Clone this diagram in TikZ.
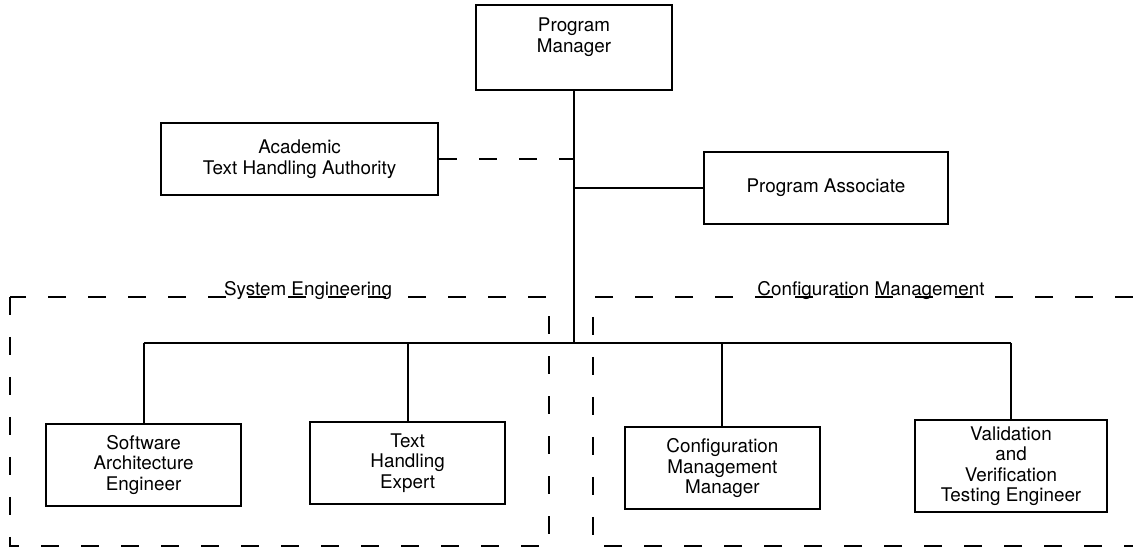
\documentclass[tikz,border=0pt]{standalone}
\usepackage{fontspec}
\setmainfont{TeX Gyre Heros}
\usepackage{tikz}
\usetikzlibrary{positioning}
\tikzset{
  role/.style={
    rectangle, draw, line width=1.5pt,
    align=center, inner sep=2pt,
    font=\fontsize{13.4}{14.6}\selectfont
  },
  topbox/.style ={role, minimum width=4.9cm,   minimum height=2.125cm},
  sidebox/.style={role, minimum width=6.5cm,   minimum height=1.8cm},
  staffbox/.style={role, minimum width=4.875cm, minimum height=2.05cm},
  link/.style={line width=1.5pt},
  dottedlink/.style={line width=1.5pt, dash pattern=on 0.45cm off 0.55cm},
  group/.style={line width=1.4pt, dash pattern=on 0.45cm off 0.55cm},
  grouptitle/.style={anchor=base, font=\fontsize{13.4}{14.6}\selectfont},
}

\begin{document}
\begin{tikzpicture}

  \useasboundingbox (0,0) rectangle (28.325,13.75);

  % Groups
  \draw[group] (0.25,6.325) rectangle (13.725,0.1);
  \draw[group] (28.325,6.325) -- (14.825,6.325) -- (14.825,0.1) -- (28.325,0.1);
  \node[grouptitle] (segroup) at (7.7,6.37)   {System Engineering};
  \node[grouptitle] (cmgroup) at (21.775,6.37) {Configuration Management};

  % Nodes
  \node[topbox]  (pm)  at (14.35,12.56) {Program\\Manager\\[0.1cm]\mbox{}};
  \node[sidebox, minimum width=6.925cm] (ath) at (7.49,9.775) {Academic\\Text Handling Authority};
  \node[sidebox, minimum width=6.1cm]   (pa)  at (20.65,9.05) {Program Associate};

  \node[staffbox] (sae) at (3.59,2.125)  {Software\\Architecture\\Engineer};
  \node[staffbox] (the) at (10.19,2.175) {Text\\Handling\\Expert};
  \node[staffbox] (cmm) at (18.06,2.04)  {Configuration\\Management\\Manager};
  \node[staffbox, minimum width=4.8cm, minimum height=2.3cm] (vv) at (25.275,2.1)
    {Validation\\and\\Verification\\Testing Engineer};

  \coordinate (bus) at (14.35,5.175);

  % Connectors
  \draw[link] (pm.south) -- (bus);
  \draw[link] (pa.west) -- (pa.west -| pm.south);
  \draw[dottedlink] (ath.east) -- (ath.east -| pm.south);
  \draw[link] (sae.north |- bus) -- (vv.north |- bus);
  \foreach \s in {sae, the, cmm, vv}{
    \draw[link] (\s.north |- bus) -- (\s.north);
  }

\end{tikzpicture}
\end{document}
